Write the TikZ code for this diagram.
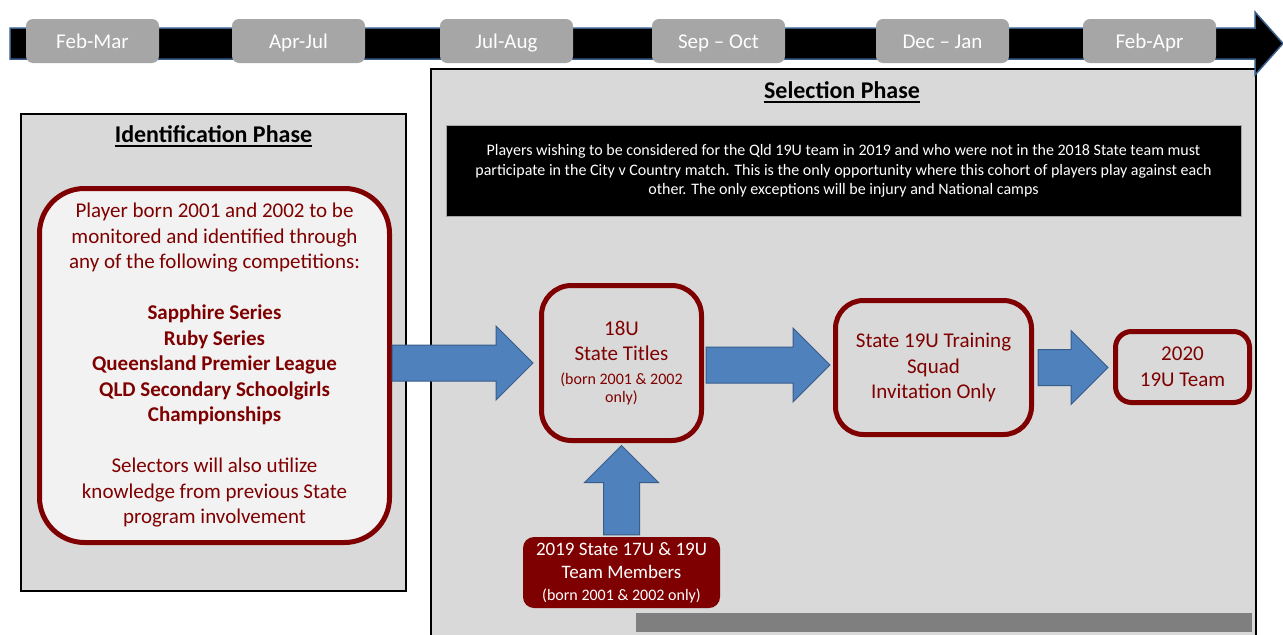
\documentclass[tikz,border=0pt]{standalone}
\usepackage{fontspec}
\setmainfont{Carlito}
\usepackage{tikz}
\usetikzlibrary{calc}

\definecolor{ddred}{HTML}{7F0000}
\definecolor{bggray}{HTML}{D9D9D9}
\definecolor{ltgray}{HTML}{F2F2F2}
\definecolor{pillgray}{HTML}{A6A6A6}
\definecolor{dkgray}{HTML}{7F7F7F}
\definecolor{arrfill}{HTML}{4F81BD}
\definecolor{arrline}{HTML}{385D8A}

\newcommand{\mainsz}{\fontsize{21bp}{25.5bp}\selectfont}
\newcommand{\smallsz}{\fontsize{16bp}{19.5bp}\selectfont}
\newcommand{\membsz}{\fontsize{19bp}{23.5bp}\selectfont}
\newcommand{\titlesz}{\fontsize{24bp}{29bp}\selectfont\bfseries}

\tikzset{
  pill/.style={fill=pillgray,rounded corners=7bp,minimum width=133bp,minimum height=44bp,inner sep=0pt,text height=16bp,text depth=2bp,text=white,font=\mainsz},
  flowbox/.style={draw=ddred,line width=5bp,fill=bggray,text=ddred,align=center,inner sep=0pt,font=\mainsz},
  phasetitle/.style={anchor=base,inner sep=0pt,font=\titlesz},
  blockarr/.style={fill=arrfill,draw=arrline,line width=1bp,line join=miter}
}

% block arrow from tail #1 to tip #2
\newcommand{\bigarrow}[2]{%
  \coordinate (#2h) at ($(#2)!37bp!(#1)$);
  \draw[blockarr] ($(#1)!18bp!90:(#2)$) -- ($(#2h)!18bp!90:(#2)$) -- ($(#2h)!37bp!90:(#2)$) -- (#2)
    -- ($(#2h)!37bp!-90:(#2)$) -- ($(#2h)!18bp!-90:(#2)$) -- ($(#1)!18bp!-90:(#2)$) -- cycle;
}

\begin{document}
\begin{tikzpicture}

\useasboundingbox[fill=white] (0bp,0bp) rectangle (1283bp,-635bp);

% identification phase
\node (idphase) at (213.5bp,-352.5bp)[draw,line width=2bp,fill=bggray,minimum width=385bp,minimum height=477bp] {};
\node (idtitle) at (213.5bp,-142.5bp)[phasetitle] {Identification Phase};
\draw[line width=2bp] ([yshift=-3bp]idtitle.base west) -- ([yshift=-3bp]idtitle.base east);
\node (idinner) at (214.5bp,-365.5bp)[flowbox,fill=ltgray,rounded corners=45bp,minimum width=350bp,minimum height=354bp] {Player born 2001 and 2002 to be\\monitored and identified through\\any of the following competitions:\\[25.5bp]\textbf{Sapphire Series}\\\textbf{Ruby Series}\\\textbf{Queensland Premier League}\\\textbf{QLD Secondary Schoolgirls}\\\textbf{Championships}\\[25.5bp]Selectors will also utilize\\knowledge from previous State\\program involvement};

% selection phase
\node (selphase) at (843.5bp,-354bp)[draw,line width=2bp,fill=bggray,minimum width=825bp,minimum height=570bp] {};
\node (seltitle) at (842bp,-98.5bp)[phasetitle] {Selection Phase};
\draw[line width=2bp] ([yshift=-3bp]seltitle.base west) -- ([yshift=-3bp]seltitle.base east);
\node (info) at (843.5bp,-171bp)[fill=black,draw=gray!70,minimum width=795bp,minimum height=91bp,text=white,align=center,font=\smallsz] {Players wishing to be considered for the Qld 19U team in 2019 and who were not in the 2018 State team must\\participate in the City v Country match. This is the only opportunity where this cohort of players play against each\\other. The only exceptions will be injury and National camps};
\node (bar) at (944bp,-622.5bp)[fill=dkgray,minimum width=616bp,minimum height=19bp,inner sep=0pt] {};

\node (t18) at (621.5bp,-363bp)[flowbox,rounded corners=30bp,minimum width=160bp,minimum height=155bp] {18U\\State Titles\\[-2bp]{\smallsz (born 2001 \& 2002}\\[-7bp]{\smallsz only)}};
\node (train) at (933.5bp,-367.5bp)[flowbox,rounded corners=28bp,minimum width=196bp,minimum height=134bp] {State 19U Training\\Squad\\Invitation Only};
\node (team20) at (1182.5bp,-367bp)[flowbox,rounded corners=16bp,minimum width=134bp,minimum height=71bp] {2020\\19U Team};
\node (members) at (621.5bp,-572.5bp)[fill=ddred,rounded corners=11bp,minimum width=197bp,minimum height=71bp,inner sep=0pt,text=white,align=center,font=\membsz] {2019 State 17U \& 19U\\Team Members\\[-2bp]{\smallsz (born 2001 \& 2002 only)}};

\coordinate (a1s) at (idinner.east |- t18.west);
\coordinate (a1e) at ([xshift=-6bp]t18.west);
\bigarrow{a1s}{a1e}
\coordinate (a2s) at ([xshift=2bp,yshift=-2bp]t18.east);
\coordinate (a2e) at ([xshift=-3bp]train.west |- a2s);
\bigarrow{a2s}{a2e}
\coordinate (a3s) at ([xshift=4bp]train.east);
\coordinate (a3e) at ([xshift=-5bp]team20.west |- a3s);
\bigarrow{a3s}{a3e}
\coordinate (a4s) at ([yshift=2bp]members.north);
\coordinate (a4e) at ([yshift=-2.5bp]t18.south);
\bigarrow{a4s}{a4e}

% timeline
\draw[fill=black,draw=arrline,line width=1.5bp,line join=miter] (10bp,-28bp) -- (1255bp,-28bp) -- (1255bp,-12bp) -- (1283bp,-43.5bp) -- (1255bp,-75bp) -- (1255bp,-59bp) -- (10bp,-59bp) -- cycle;
\node (febmar) at (92.5bp,-41bp)[pill] {Feb-Mar};
\node (aprjul) at (298.5bp,-41bp)[pill] {Apr-Jul};
\node (julaug) at (506.5bp,-41bp)[pill] {Jul-Aug};
\node (sepoct) at (718.5bp,-41bp)[pill] {Sep – Oct};
\node (decjan) at (942.5bp,-41bp)[pill] {Dec – Jan};
\node (febapr) at (1149.5bp,-41bp)[pill] {Feb-Apr};

\end{tikzpicture}
\end{document}
